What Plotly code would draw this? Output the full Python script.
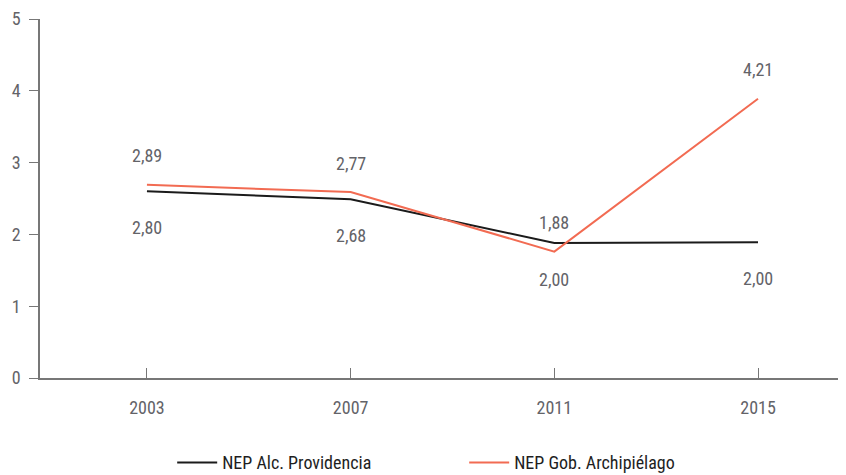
import plotly.graph_objects as go

# data
years = ["2003", "2007", "2011", "2015"]
providencia = [2.60, 2.49, 1.88, 1.89]
archipielago = [2.69, 2.59, 1.76, 3.89]
providencia_labels = ["2,80", "2,68", "2,00", "2,00"]
archipielago_labels = ["2,89", "2,77", "1,88", "4,21"]
y_ticks = [0, 1, 2, 3, 4, 5]

FONT = "Roboto Condensed, DejaVu Sans Condensed, sans-serif"
GREY = "#636368"
BLACK = "#1b1b1b"
ORANGE = "#f26b52"

fig = go.Figure()
fig.add_trace(go.Scatter(
    x=years, y=providencia, mode="lines", name="NEP Alc. Providencia",
    line=dict(color=BLACK, width=2),
))
fig.add_trace(go.Scatter(
    x=years, y=archipielago, mode="lines", name="NEP Gob. Archipiélago",
    line=dict(color=ORANGE, width=2),
))

# value labels: orange series above its line, black series below
label_font = dict(size=18, color=GREY, family=FONT)
annotations = []
for i, (y, t) in enumerate(zip(archipielago, archipielago_labels)):
    annotations.append(dict(x=i, y=y, xref="x", yref="y", text=t, showarrow=False,
                            yshift=29, font=label_font))
for i, (y, t) in enumerate(zip(providencia, providencia_labels)):
    annotations.append(dict(x=i, y=y, xref="x", yref="y", text=t, showarrow=False,
                            yshift=-36, font=label_font))

# the page body adds an 8px offset, so the figure is sized to fit the window
fig.update_layout(
    width=838,
    height=467,
    margin=dict(l=32, r=0, t=11, b=97, autoexpand=False),
    paper_bgcolor="white",
    plot_bgcolor="white",
    font=dict(family=FONT, size=18, color=GREY),
    annotations=annotations,
    showlegend=True,
    legend=dict(
        orientation="h", x=0.164, xanchor="left",
        yref="container", y=0.066, yanchor="top",
        font=dict(size=18, color="#1e1e1e", family=FONT),
        itemwidth=40, tracegroupgap=0, entrywidth=237,
    ),
    xaxis=dict(
        type="category", categoryarray=years, range=[-0.525, 3.432],
        automargin=False,
        showline=True, linecolor="#777777", linewidth=1.5,
        ticks="inside", ticklen=10, tickcolor="#777777",
        ticklabelstandoff=13,
        showgrid=False, zeroline=False,
        tickfont=dict(size=18, color=GREY, family=FONT),
    ),
    yaxis=dict(
        range=[0, 5], tickvals=y_ticks, automargin=False,
        showline=True, linecolor="#777777", linewidth=1.5,
        ticks="outside", ticklen=9, tickcolor="#777777",
        ticklabelstandoff=5,
        showgrid=False, zeroline=False,
        tickfont=dict(size=18, color=GREY, family=FONT),
    ),
)

fig.write_html("out.html")
